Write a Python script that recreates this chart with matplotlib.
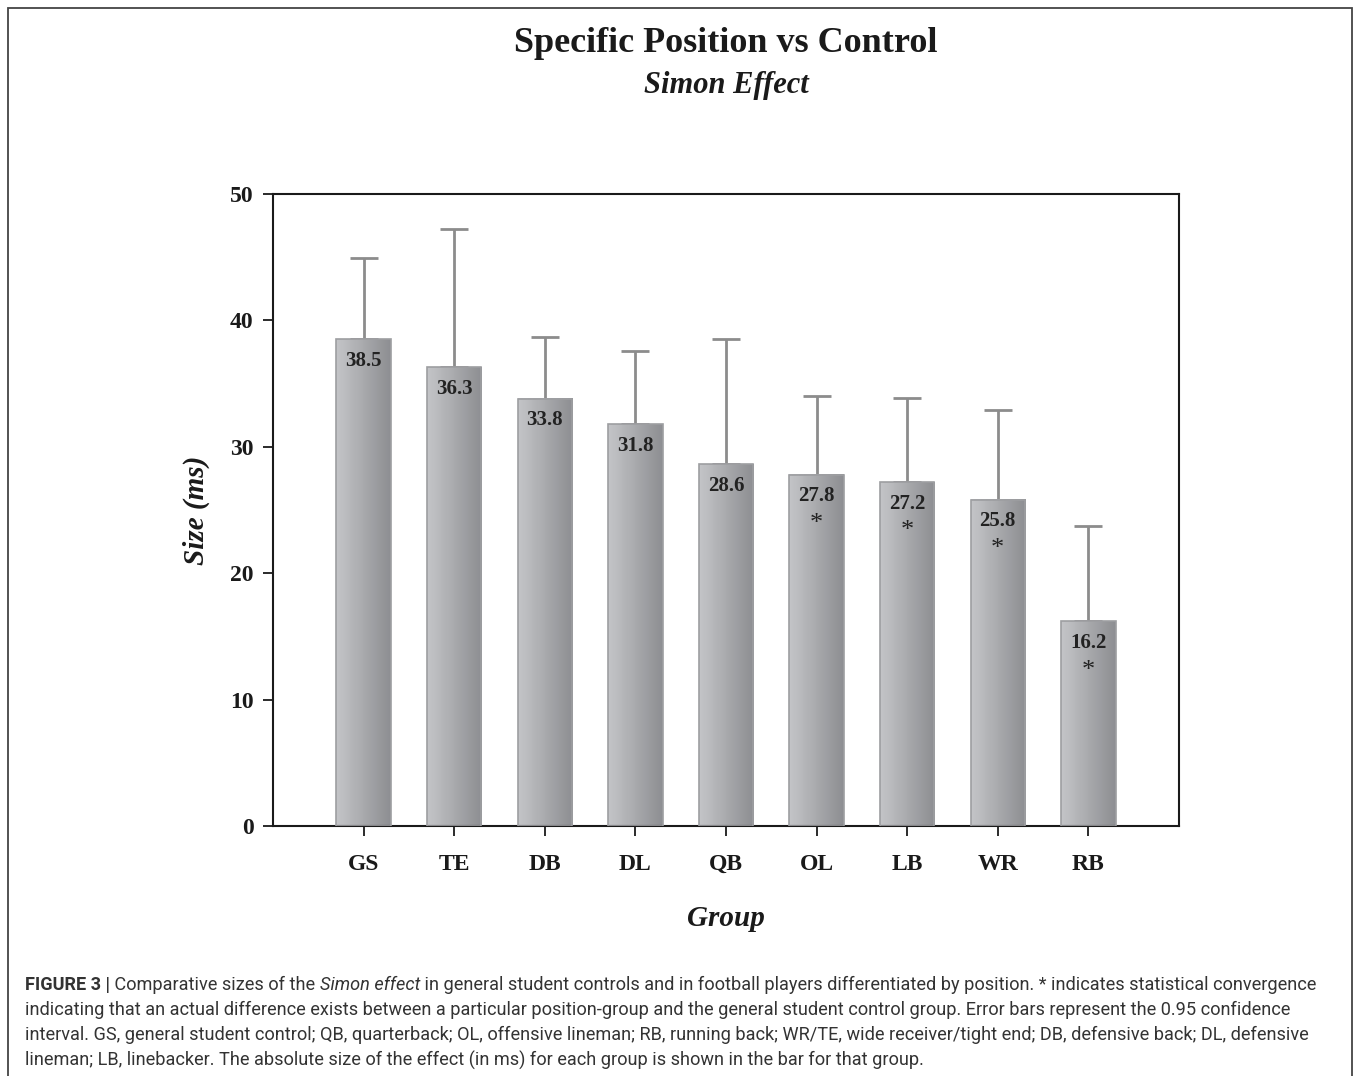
import matplotlib
matplotlib.use('Agg')
import matplotlib.pyplot as plt
from matplotlib.colors import LinearSegmentedColormap
from matplotlib.patches import Rectangle
import numpy as np

groups = ['GS', 'TE', 'DB', 'DL', 'QB', 'OL', 'LB', 'WR', 'RB']
sizes = [38.5, 36.3, 33.8, 31.8, 28.6, 27.8, 27.2, 25.8, 16.2]
ci_upper = [44.9, 47.2, 38.7, 37.6, 38.5, 34.0, 33.9, 32.9, 23.7]
significant = [False, False, False, False, False, True, True, True, True]

caption_lines = [
    [('FIGURE 3 |', 'normal', 'bold'),
     (' Comparative sizes of the ', 'normal', 'normal'),
     ('Simon effect', 'italic', 'normal'),
     (' in general student controls and in football players differentiated by position. * indicates statistical convergence',
      'normal', 'normal')],
    [('indicating that an actual difference exists between a particular position-group and the general student control group. '
      'Error bars represent the 0.95 confidence', 'normal', 'normal')],
    [('interval. GS, general student control; QB, quarterback; OL, offensive lineman; RB, running back; WR/TE, '
      'wide receiver/tight end; DB, defensive back; DL, defensive', 'normal', 'normal')],
    [('lineman; LB, linebacker. The absolute size of the effect (in ms) for each group is shown in the bar for that group.',
      'normal', 'normal')],
]

SERIF = ['Liberation Serif', 'DejaVu Serif']
SANS = ['Roboto', 'DejaVu Sans']

W, H = 1358, 1076
fig = plt.figure(figsize=(W / 100, H / 100), dpi=100)
fig.patch.set_facecolor('white')

# outer frame
fig.add_artist(Rectangle((8 / W, -0.01), (1352 - 8) / W, (H - 8) / H + 0.01,
                         transform=fig.transFigure, fill=False,
                         edgecolor='#444444', linewidth=1.3))

ax = fig.add_axes([273 / W, 1 - 826 / H, (1179 - 273) / W, (826 - 194) / H])
x = np.arange(1, len(groups) + 1)
bw = 0.6

grad = LinearSegmentedColormap.from_list('bar', ['#c4c5c8', '#a9aaad', '#8d8e92'])
g = np.linspace(0, 1, 64).reshape(1, -1)
for xi, v in zip(x, sizes):
    ax.imshow(g, cmap=grad, aspect='auto', extent=(xi - bw / 2, xi + bw / 2, 0, v),
              zorder=2, interpolation='bicubic')
    r = Rectangle((xi - bw / 2, 0), bw, v, fill=False, edgecolor='#9d9ea1',
                  linewidth=1.2, zorder=3)
    ax.add_patch(r)

err_up = np.array(ci_upper) - np.array(sizes)
ax.errorbar(x, sizes, yerr=[np.zeros(len(x)), err_up], fmt='none',
            ecolor='#8c8c8c', elinewidth=2, capsize=10, capthick=2, zorder=1)

for xi, v, s in zip(x, sizes, significant):
    ax.text(xi, v - 1.7, f'{v:.1f}', ha='center', va='center', fontsize=15,
            fontweight='bold', family=SERIF, color='#222222', zorder=4)
    if s:
        ax.text(xi, v - 3.9, '*', ha='center', va='center', fontsize=19,
                family=SERIF, color='#222222', zorder=4)

ax.set_xlim(0, 10)
ax.set_ylim(0, 50)
ax.set_xticks(x)
ax.set_xticklabels(groups)
ax.set_yticks([0, 10, 20, 30, 40, 50])
for lab in ax.get_xticklabels() + ax.get_yticklabels():
    lab.set_family(SERIF)
    lab.set_fontweight('bold')
    lab.set_fontsize(17)
    lab.set_color('#1a1a1a')
ax.tick_params(axis='x', direction='out', length=7, width=1.3, pad=13, colors='#1a1a1a')
ax.tick_params(axis='y', direction='out', length=7, width=1.3, pad=7, colors='#1a1a1a')
for sp in ax.spines.values():
    sp.set_linewidth(1.5)
    sp.set_color('#1a1a1a')

ax.set_ylabel('Size (ms)', family=SERIF, fontweight='bold', style='italic',
              fontsize=21, labelpad=14, color='#1a1a1a')
ax.set_xlabel('Group', family=SERIF, fontweight='bold', style='italic',
              fontsize=21, labelpad=22, color='#1a1a1a')

cx = (273 + 1179) / 2 / W
fig.text(cx, 1 - 43 / H, 'Specific Position vs Control', ha='center', va='center',
         family=SERIF, fontweight='bold', fontsize=26, color='#1a1a1a')
fig.text(cx, 1 - 85 / H, 'Simon Effect', ha='center', va='center',
         family=SERIF, fontweight='bold', style='italic', fontsize=22, color='#1a1a1a')

# caption, sized so the longest lines fill the box width
fig.canvas.draw()
renderer = fig.canvas.get_renderer()
probe = fig.text(0, 0, caption_lines[2][0][0], family=SANS, fontsize=14)
pw = probe.get_window_extent(renderer).width
probe.remove()
cap_size = 14 * (1318 - 25) / pw

y0 = 985
for i, parts in enumerate(caption_lines):
    xpos = 25
    for txt, st, wt in parts:
        t = fig.text(xpos / W, 1 - (y0 + i * 25) / H, txt, ha='left', va='center',
                     family=SANS, style=st, fontweight=wt, fontsize=cap_size,
                     color='#333333')
        xpos += t.get_window_extent(renderer).width

fig.savefig('out.png', dpi=100)
